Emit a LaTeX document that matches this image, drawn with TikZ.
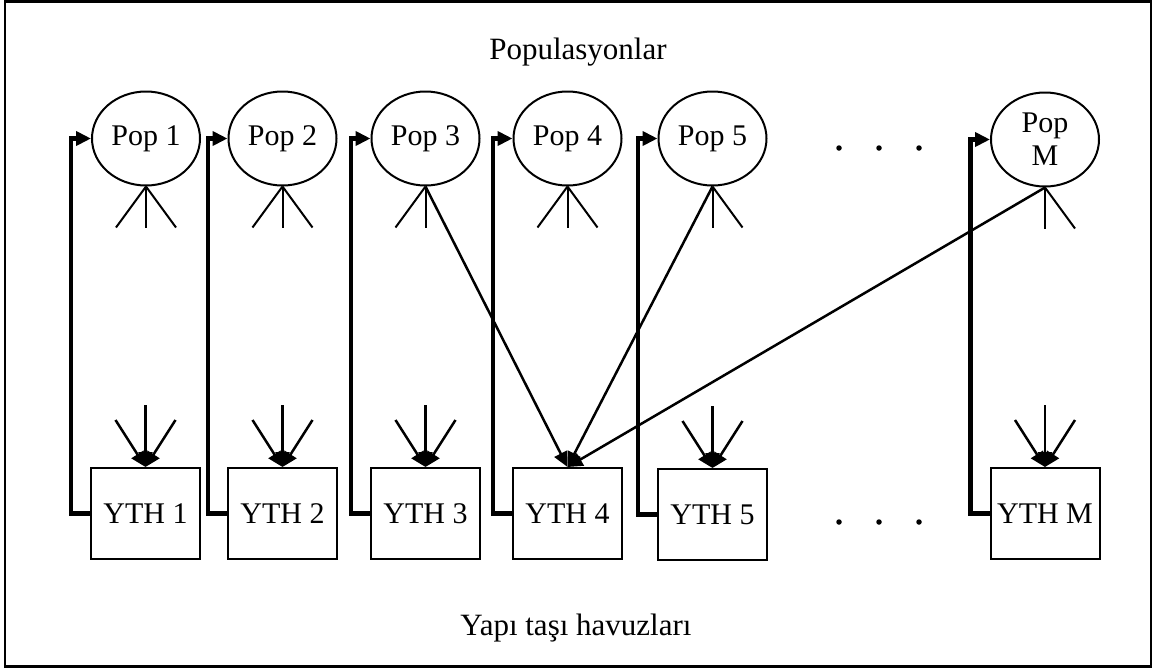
\documentclass[tikz,border=0pt]{standalone}
\usepackage{fontspec}
\setmainfont{Liberation Serif}
\usetikzlibrary{arrows.meta,shapes.geometric,calc}
\begin{document}
\begin{tikzpicture}[x=1pt,y=-1pt,
  pop/.style={draw,ellipse,line width=2pt,minimum width=108pt,minimum height=94pt,
    inner sep=0pt,align=center,font=\fontsize{30}{33}\selectfont},
  pool/.style={draw,rectangle,line width=2pt,minimum width=109pt,minimum height=91pt,
    inner sep=0pt,font=\fontsize{30}{33}\selectfont},
  leg/.style={line width=2pt},
  feed/.style={-{Triangle[length=15pt,width=14pt]},line width=4.5pt,line join=miter},
  inarrow/.style={-{Triangle[length=15pt,width=14pt]},line width=2.5pt},
  dot/.style={circle,fill,inner sep=0pt,minimum size=5.5pt},
  title/.style={anchor=base,font=\fontsize{31}{34}\selectfont}]
\useasboundingbox (0,0) rectangle (1157,670);
% outer frame
\draw[line width=2.4pt] (5,1.5) rectangle (1151,666.5);

% titles
\node[title] (tpop) at (578,59) {Populasyonlar};
\node[title] (tpool) at (576,635) {Yapı taşı havuzları};

% populations
\node[pop] (p1) at (146,138.5) {Pop 1};
\node[pop] (p2) at (282.5,138.5) {Pop 2};
\node[pop] (p3) at (425.5,138.5) {Pop 3};
\node[pop] (p4) at (567.5,138.5) {Pop 4};
\node[pop] (p5) at (712.5,138.5) {Pop 5};
\node[pop] (pM) at (1045,139.5) {Pop\\M};

% building block pools
\node[pool] (y1) at (145.5,513.5) {YTH 1};
\node[pool] (y2) at (282.5,513.5) {YTH 2};
\node[pool] (y3) at (425.5,513.5) {YTH 3};
\node[pool] (y4) at (567.5,513.5) {YTH 4};
\node[pool] (y5) at (712.5,514.5) {YTH 5};
\node[pool] (yM) at (1045,513.5) {YTH M};

% ellipsis dots
\foreach \k/\x in {a/839,b/879,c/919}{
  \node[dot] (dt\k) at (\x,148) {};
  \node[dot] (db\k) at (\x,522) {};
}

% short legs under each population
\foreach \p in {1,2,3,4,5,M}{
  \coordinate (\p-ll) at ($(p\p.south)+(-30,41)$);
  \coordinate (\p-lc) at ($(p\p.south)+(0,41)$);
  \coordinate (\p-lr) at ($(p\p.south)+(30,41)$);
}
\foreach \p in {1,2,4}{
  \draw[leg] (p\p.south) -- (\p-ll);
  \draw[leg] (p\p.south) -- (\p-lr);
}
\foreach \p in {1,2,3,4,5,M}{
  \draw[leg] (p\p.south) -- (\p-lc);
}
\draw[leg] (p3.south) -- (3-ll);
\draw[leg] (p5.south) -- (5-lr);
\draw[leg] (pM.south) -- (M-lr);

% incoming arrows on the pools
\foreach \b in {1,2,3,5,M}{
  \coordinate (\b-al) at ($(y\b.north)+(-30,-47)$);
  \coordinate (\b-ac) at ($(y\b.north)+(0,-62)$);
  \coordinate (\b-ar) at ($(y\b.north)+(30,-47)$);
  \draw[inarrow] (\b-ac) -- (y\b.north);
  \draw[inarrow] (\b-al) -- (y\b.north);
  \draw[inarrow] (\b-ar) -- (y\b.north);
}
\draw[inarrow] (p3.south) -- (y4.north);
\draw[inarrow] (p5.south) -- (y4.north);
\draw[inarrow] (pM.south) -- (y4.north);

% feedback from each pool to its population
\foreach \b in {1,2,3,4,5,M}{
  \draw[feed] (y\b.west) -- ++(-19,0) |- (p\b.west);
}
\end{tikzpicture}
\end{document}
